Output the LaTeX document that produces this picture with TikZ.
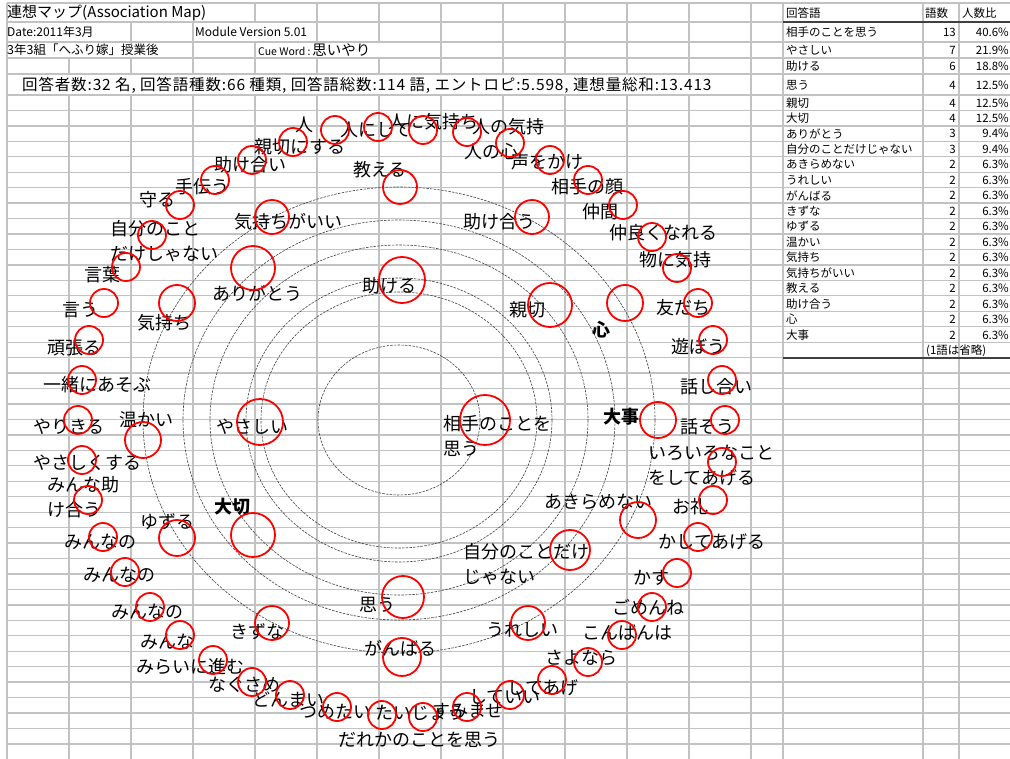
\documentclass[tikz,border=0pt]{standalone}
\usepackage{fontspec}
\setmainfont{Noto Sans CJK JP}
\newfontfamily\spacedjp[LetterSpace=5.5]{Noto Sans CJK JP}
\begin{document}
\begin{tikzpicture}[x=1pt,y=-1pt,
  gridl/.style={draw=gray!48, line width=1.3pt},
  darkl/.style={draw=black!75, line width=1.4pt},
  ring/.style={draw=black!75, line width=0.6pt, dash pattern=on 2.5pt off 1.2pt},
  rc/.style={circle, draw=red, line width=1.8pt, inner sep=0pt, minimum size=28pt},
  rc2/.style={circle, draw=red, line width=1.8pt, inner sep=0pt, minimum size=#1},
  lbl/.style={font=\fontsize{18}{25}\selectfont, inner sep=0pt, align=left},
  tw/.style={font=\fontsize{11.5}{12}\selectfont, inner sep=0pt, anchor=west},
  tn/.style={font=\fontsize{11.5}{12}\selectfont, inner sep=0pt, anchor=east},
  hd/.style={inner sep=0pt, anchor=west},
]
\useasboundingbox (0,0) rectangle (1010,759);
\fill[white] (0,0) rectangle (1010,759);
% ---------- grid ----------
\foreach \yy in {3,22,42,58,74} \draw[gridl] (7,\yy) -- (1010,\yy);
\foreach \k in {0,...,42} \draw[gridl] (7,{95+15.45*\k}) -- (1010,{95+15.45*\k});
\foreach \xx in {7,69,131,193,255,317,379,441,503,565,627,689,751,783,923,959} \draw[gridl] (\xx,95) -- (\xx,759);
\foreach \xx in {7,751,783,923,959} \draw[gridl] (\xx,3) -- (\xx,95);
\foreach \xx in {255,317,379,441,503,565,627,689} \draw[gridl] (\xx,3) -- (\xx,22);
\foreach \xx in {131,193,317,379,441,503,565,627,689} \draw[gridl] (\xx,22) -- (\xx,42);
\foreach \xx in {193,255,441,503,565,627,689} \draw[gridl] (\xx,42) -- (\xx,58);
\foreach \xx in {69,131,193,255,317,379,441,503,565,627,689} \draw[gridl] (\xx,58) -- (\xx,74);
\draw[darkl] (783,22) -- (1010,22);
\draw[darkl] (783,358) -- (1010,358);
% ---------- header ----------
\node[hd, font=\fontsize{15}{15}\selectfont] (title) at (7,13) {連想マップ(Association Map)};
\node[hd, font=\fontsize{12}{12}\selectfont] (date) at (7,32) {Date:2011年3月};
\node[hd, font=\fontsize{12}{12}\selectfont] (modv) at (195,32) {Module Version 5.01};
\node[hd, font=\fontsize{12.5}{13}\selectfont] (cls) at (7,50) {3年3組「へふり嫁」授業後};
\node[hd] (cue) at (258,50) {{\fontsize{10.5}{11}\selectfont Cue Word :}\,{\fontsize{14.5}{15}\selectfont 思いやり}};
\node[hd, font=\spacedjp\fontsize{15.5}{16}\selectfont] (stats) at (22,85) {回答者数:32 名, 回答語種数:66 種類, 回答語総数:114 語, エントロピ:5.598, 連想量総和:13.413};
% ---------- table ----------
\node[tw] (th1) at (786,13) {回答語};
\node[tw] (th2) at (925,13) {語数};
\node[tw] (th3) at (962,13) {人数比};
\node[tw] (w1) at (786,32) {相手のことを思う}; \node[tn] (n1) at (956,32) {13}; \node[tn] (p1) at (1009,32) {40.6\%};
\node[tw] (w2) at (786,50) {やさしい}; \node[tn] (n2) at (956,50) {7}; \node[tn] (p2) at (1009,50) {21.9\%};
\node[tw] (w3) at (786,66) {助ける}; \node[tn] (n3) at (956,66) {6}; \node[tn] (p3) at (1009,66) {18.8\%};
\node[tw] (w4) at (786,85) {思う}; \node[tn] (n4) at (956,85) {4}; \node[tn] (p4) at (1009,85) {12.5\%};
\node[tw] (w5) at (786,103) {親切}; \node[tn] (n5) at (956,103) {4}; \node[tn] (p5) at (1009,103) {12.5\%};
\node[tw] (w6) at (786,118) {大切}; \node[tn] (n6) at (956,118) {4}; \node[tn] (p6) at (1009,118) {12.5\%};
\node[tw] (w7) at (786,133.5) {ありがとう}; \node[tn] (n7) at (956,133.5) {3}; \node[tn] (p7) at (1009,133.5) {9.4\%};
\node[tw] (w8) at (786,149) {自分のことだけじゃない}; \node[tn] (n8) at (956,149) {3}; \node[tn] (p8) at (1009,149) {9.4\%};
\node[tw] (w9) at (786,164.5) {あきらめない}; \node[tn] (n9) at (956,164.5) {2}; \node[tn] (p9) at (1009,164.5) {6.3\%};
\node[tw] (w10) at (786,180) {うれしい}; \node[tn] (n10) at (956,180) {2}; \node[tn] (p10) at (1009,180) {6.3\%};
\node[tw] (w11) at (786,195.5) {がんばる}; \node[tn] (n11) at (956,195.5) {2}; \node[tn] (p11) at (1009,195.5) {6.3\%};
\node[tw] (w12) at (786,211) {きずな}; \node[tn] (n12) at (956,211) {2}; \node[tn] (p12) at (1009,211) {6.3\%};
\node[tw] (w13) at (786,226.5) {ゆずる}; \node[tn] (n13) at (956,226.5) {2}; \node[tn] (p13) at (1009,226.5) {6.3\%};
\node[tw] (w14) at (786,242) {温かい}; \node[tn] (n14) at (956,242) {2}; \node[tn] (p14) at (1009,242) {6.3\%};
\node[tw] (w15) at (786,257.5) {気持ち}; \node[tn] (n15) at (956,257.5) {2}; \node[tn] (p15) at (1009,257.5) {6.3\%};
\node[tw] (w16) at (786,273) {気持ちがいい}; \node[tn] (n16) at (956,273) {2}; \node[tn] (p16) at (1009,273) {6.3\%};
\node[tw] (w17) at (786,288.5) {教える}; \node[tn] (n17) at (956,288.5) {2}; \node[tn] (p17) at (1009,288.5) {6.3\%};
\node[tw] (w18) at (786,304) {助け合う}; \node[tn] (n18) at (956,304) {2}; \node[tn] (p18) at (1009,304) {6.3\%};
\node[tw] (w19) at (786,319.5) {心}; \node[tn] (n19) at (956,319.5) {2}; \node[tn] (p19) at (1009,319.5) {6.3\%};
\node[tw] (w20) at (786,335) {大事}; \node[tn] (n20) at (956,335) {2}; \node[tn] (p20) at (1009,335) {6.3\%};
\node[tw] (omit) at (926,350.5) {(1語は省略)};
% ---------- rings ----------
\coordinate (ctr) at (399,420);
\foreach \rx/\ry in {81/75,138/128,153/142,189/175,216/200,256/233}
  \draw[ring] (ctr) ellipse [x radius=\rx, y radius=\ry];
% ---------- labels: outer ring ----------
\node[lbl] (a1) at (304,125) {人};
\node[lbl] (a2) at (300,147) {親切にする};
\node[lbl] (a3) at (376,130) {人にして};
\node[lbl] (a4) at (433,122) {人に気持ち};
\node[lbl] (a5) at (508,127) {人の気持};
\node[lbl] (a6) at (491,152) {人の心};
\node[lbl] (a7) at (547,162) {声をかけ};
\node[lbl] (a8) at (587,187) {相手の顔};
\node[lbl] (a9) at (600,212) {仲間};
\node[lbl] (a10) at (663,233) {仲良くなれる};
\node[lbl] (a11) at (675,260) {物に気持};
\node[lbl] (a12) at (683,308) {友だち};
\node[lbl] (a13) at (698,347) {遊ぼう};
\node[lbl] (a14) at (716,387) {話し合い};
\node[lbl] (a15) at (707,427) {話そう};
\node[lbl, anchor=west] (a16) at (648,465) {いろいろなこと\\をしてあげる};
\node[lbl] (a17) at (690,507) {お礼};
\node[lbl] (a18) at (712,542) {かしてあげる};
\node[lbl] (a19) at (651,578) {かす};
\node[lbl] (a20) at (648,607) {ごめんね};
\node[lbl] (a21) at (627,633) {こんばんは};
\node[lbl] (a22) at (581,658) {さよなら};
\node[lbl] (a23) at (543,688) {してあげ};
\node[lbl] (a24) at (505,697) {していい};
\node[lbl] (a25) at (468,711) {すみませ};
\node[lbl] (a26) at (420,713) {たいじょう};
\node[lbl] (a27) at (419,740) {だれかのことを思う};
\node[lbl] (a28) at (335,712) {つめたい};
\node[lbl] (a29) at (288,700) {どんまい};
\node[lbl] (a30) at (244,685) {なぐさめ};
\node[lbl] (a31) at (190,667) {みらいに進む};
\node[lbl] (a32) at (167,642) {みんな};
\node[lbl] (a33) at (147,612) {みんなの};
\node[lbl] (a34) at (119,575) {みんなの};
\node[lbl] (a35) at (100,542) {みんなの};
\node[lbl, anchor=west] (a36) at (47,497) {みんな助\\け合う};
\node[lbl] (a37) at (88,463) {やさしくする};
\node[lbl] (a38) at (69,427) {やりきる};
\node[lbl] (a39) at (97,385) {一緒にあそぶ};
\node[lbl] (a40) at (74,348) {頑張る};
\node[lbl] (a41) at (80,310) {言う};
\node[lbl] (a42) at (102,275) {言葉};
\node[lbl, anchor=west] (a43) at (110,241) {自分のこと\\だけしゃない};
\node[lbl] (a44) at (157,200) {守る};
\node[lbl] (a45) at (202,187) {手伝う};
\node[lbl] (a46) at (250,165) {助け合い};
% ---------- labels: inner ----------
\node[lbl] (b1) at (380,170) {教える};
\node[lbl] (b2) at (288,222) {気持ちがいい};
\node[lbl] (b3) at (257,293) {ありがとう};
\node[lbl] (b4) at (164,323) {気持ち};
\node[lbl] (b5) at (389,286) {助ける};
\node[lbl] (b6) at (499,222) {助け合う};
\node[lbl] (b7) at (527,310) {親切};
\node[lbl, font=\fontsize{18}{25}\selectfont\bfseries] (b8) at (601,330) {心};
\node[lbl, font=\fontsize{18}{25}\selectfont\bfseries] (b9) at (621,417) {大事};
\node[lbl, anchor=west] (b10) at (443,436) {相手のことを\\思う};
\node[lbl] (b11) at (146,420) {温かい};
\node[lbl] (b12) at (252,427) {やさしい};
\node[lbl] (b13) at (167,522) {ゆずる};
\node[lbl, font=\fontsize{18}{25}\selectfont\bfseries] (b14) at (232,507) {大切};
\node[lbl] (b15) at (598,502) {あきらめない};
\node[lbl, anchor=west] (b16) at (463,564) {自分のことだけ\\じゃない};
\node[lbl] (b17) at (377,605) {思う};
\node[lbl] (b18) at (400,648) {がんばる};
\node[lbl] (b19) at (257,632) {きずな};
\node[lbl] (b20) at (522,630) {うれしい};
% ---------- circles: outer ring ----------
\foreach \cx/\cy [count=\i] in {89/340,104/303,126/267,152/235,180/205,215/180,252/160,293/142,335/130,378/127,423/130,467/132,510/143,550/160,588/180,623/205,652/237,677/268,698/303,713/340,722/380,725/420,722/462,713/500,698/537,677/573,652/607,622/635,588/662,552/680,510/695,467/707,423/717,382/715,337/707,290/695,252/682,213/660,180/635,150/607,125/572,103/537,88/500,82/460,78/420,82/380}
  \node[rc] (c\i) at (\cx,\cy) {};
% ---------- circles: inner ----------
\foreach \cx/\cy/\r [count=\i] in {400/187/17,272/217/17,253/268/22,177/303/18,402/280/23,532/217/17,550/305/22,625/303/18,658/420/18,485/420/25,143/440/18,260/422/23,177/538/18,253/535/22,638/520/18,570/550/20,403/597/21,402/657/19,272/623/17,528/623/17}
  \node[rc2={2*\r}] (d\i) at (\cx,\cy) {};
\end{tikzpicture}
\end{document}
